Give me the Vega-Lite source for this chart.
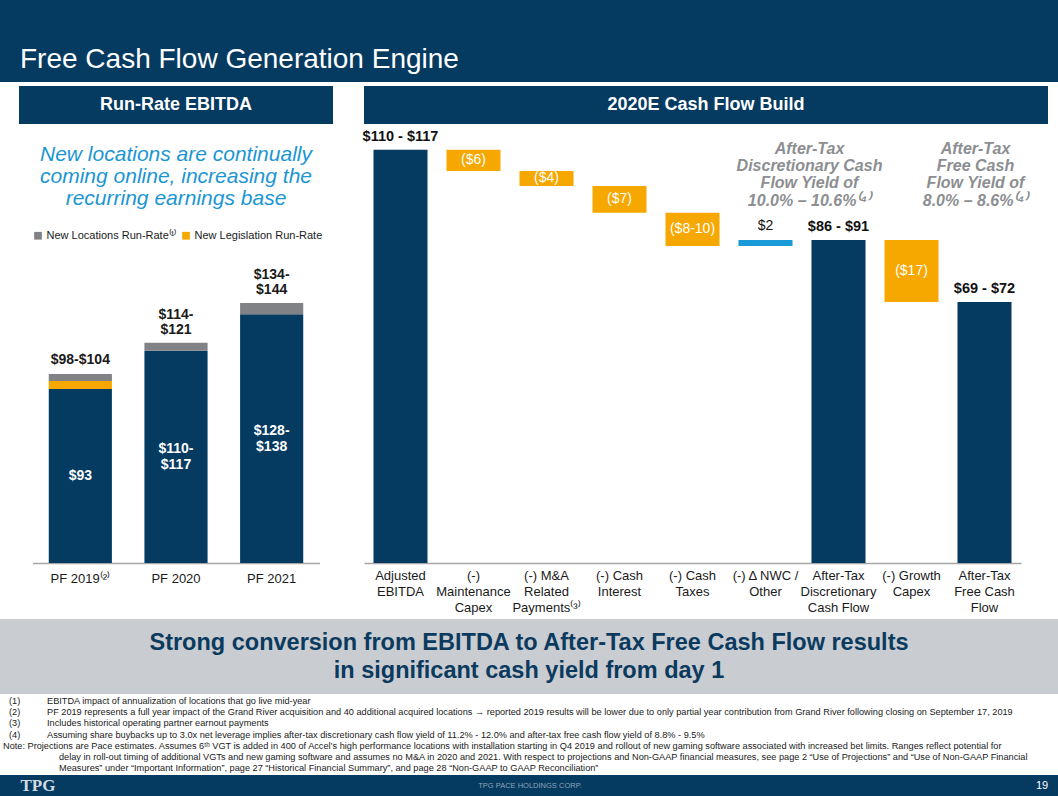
{
  "$schema": "https://vega.github.io/schema/vega-lite/v6.json",
  "padding": 0,
  "background": "white",
  "spacing": 0,
  "resolve": {"scale": {"color": "independent"}, "legend": {"color": "independent"}},
  "datasets": {
    "ebitda": [
      {"year": "PF 2019⁽²⁾", "segment": "Base", "value": 93, "label": "$93"},
      {"year": "PF 2019⁽²⁾", "segment": "New Legislation Run-Rate", "value": 4.3},
      {"year": "PF 2019⁽²⁾", "segment": "New Locations Run-Rate⁽¹⁾", "value": 3.7},
      {"year": "PF 2020", "segment": "Base", "value": 113.5, "label": "$110-|$117"},
      {"year": "PF 2020", "segment": "New Locations Run-Rate⁽¹⁾", "value": 4.2},
      {"year": "PF 2021", "segment": "Base", "value": 133, "label": "$128-|$138"},
      {"year": "PF 2021", "segment": "New Locations Run-Rate⁽¹⁾", "value": 6}
    ],
    "ebitdaTotals": [
      {"year": "PF 2019⁽²⁾", "total": 101, "label": "$98-$104"},
      {"year": "PF 2020", "total": 117.7, "label": "$114-|$121"},
      {"year": "PF 2021", "total": 139, "label": "$134-|$144"}
    ],
    "flow": [
      {"cat": "Adjusted|EBITDA", "start": 0, "end": 113.5, "kind": "total", "label": "$110 - $117"},
      {"cat": "(-)|Maintenance|Capex", "start": 113.5, "end": 107.7, "kind": "decrease", "label": "($6)"},
      {"cat": "(-) M&A|Related|Payments⁽³⁾", "start": 107.7, "end": 103.6, "kind": "decrease", "label": "($4)"},
      {"cat": "(-) Cash|Interest", "start": 103.6, "end": 96.2, "kind": "decrease", "label": "($7)"},
      {"cat": "(-) Cash|Taxes", "start": 96.2, "end": 87.1, "kind": "decrease", "label": "($8-10)"},
      {"cat": "(-) Δ NWC /|Other", "start": 87.1, "end": 88.7, "kind": "increase", "label": "$2"},
      {"cat": "After-Tax|Discretionary|Cash Flow", "start": 0, "end": 88.7, "kind": "total", "label": "$86 - $91"},
      {"cat": "(-) Growth|Capex", "start": 88.7, "end": 71.7, "kind": "decrease", "label": "($17)"},
      {"cat": "After-Tax|Free Cash|Flow", "start": 0, "end": 71.7, "kind": "total", "label": "$69 - $72"}
    ],
    "notes": [
      {"line": 1, "n": "(1)", "t": "EBITDA impact of annualization of locations that go live mid-year", "kind": "fn"},
      {"line": 2, "n": "(2)", "t": "PF 2019 represents a full year impact of the Grand River acquisition and 40 additional acquired locations → reported 2019 results will be lower due to only partial year contribution from Grand River following closing on September 17, 2019", "kind": "fn"},
      {"line": 3, "n": "(3)", "t": "Includes historical operating partner earnout payments", "kind": "fn"},
      {"line": 4, "n": "(4)", "t": "Assuming share buybacks up to 3.0x net leverage implies after-tax discretionary cash flow yield of 11.2% - 12.0% and after-tax free cash flow yield of 8.8% - 9.5%", "kind": "fn"},
      {"line": 5, "t": "Note: Projections are Pace estimates.  Assumes 6ᵗʰ VGT is added in 400 of Accel’s high performance locations with installation starting in Q4 2019 and rollout of new gaming software associated with increased bet limits. Ranges reflect potential for", "kind": "note"},
      {"line": 6, "t": "delay in roll-out timing of additional VGTs and new gaming software and assumes no M&A in 2020 and 2021. With respect to projections and Non-GAAP financial measures, see page 2 “Use of Projections” and “Use of Non-GAAP Financial", "kind": "cont"},
      {"line": 7, "t": "Measures” under “Important Information”, page 27 “Historical Financial Summary”, and page 28 “Non-GAAP to GAAP Reconciliation”", "kind": "cont"}
    ]
  },
  "vconcat": [
    {
      "width": 1058, "height": 82,
      "view": {"fill": "#053a61"},
      "data": {"values": [{"t": "Free Cash Flow Generation Engine"}]},
      "mark": {"type": "text", "align": "left", "baseline": "alphabetic", "dx": 20, "dy": 27, "fontSize": 28, "color": "white"},
      "encoding": {
        "text": {"field": "t"},
        "x": {"datum": 0, "type": "quantitative", "scale": {"domain": [0, 1]}, "axis": null}
      }
    },
    {"width": 1058, "height": 4, "data": {"values": []}, "mark": "text", "encoding": {}},
    {
      "spacing": 0,
      "resolve": {"scale": {"color": "independent"}, "legend": {"color": "independent"}},
      "hconcat": [
        {"width": 19, "height": 1, "data": {"values": []}, "mark": "text", "encoding": {}},
        {
          "bounds": "flush",
          "center": true,
          "spacing": 0,
          "resolve": {"scale": {"color": "independent"}, "legend": {"color": "independent"}},
          "vconcat": [
            {
              "width": 314, "height": 38,
              "view": {"fill": "#053a61"},
              "data": {"values": [{"t": "Run-Rate EBITDA"}]},
              "mark": {"type": "text", "color": "white", "fontWeight": "bold", "fontSize": 18},
              "encoding": {"text": {"field": "t"}}
            },
            {
              "width": 314, "height": 106,
              "data": {"values": [{"t": "New locations are continually|coming online, increasing the|recurring earnings base"}]},
              "mark": {"type": "text", "color": "#1b96d3", "fontStyle": "italic", "fontSize": 21, "lineBreak": "|", "lineHeight": 22, "dy": -22},
              "encoding": {"text": {"field": "t"}}
            },
            {
              "width": 287, "height": 333,
              "data": {"name": "ebitda"},
              "encoding": {
                "x": {
                  "field": "year", "type": "nominal", "sort": null,
                  "scale": {"paddingInner": 0.34, "paddingOuter": 0.17},
                  "axis": {"title": null, "labelAngle": 0, "ticks": false, "domainColor": "#a6a6a6", "domainWidth": 1.5, "labelFontSize": 13, "labelColor": "#1a1a1a", "labelPadding": 9, "labelOverlap": false}
                }
              },
              "layer": [
                {
                  "mark": {"type": "bar"},
                  "encoding": {
                    "y": {"field": "value", "type": "quantitative", "stack": "zero", "scale": {"domain": [0, 178], "nice": false}, "axis": null},
                    "color": {
                      "field": "segment", "type": "nominal",
                      "scale": {"domain": ["New Locations Run-Rate⁽¹⁾", "New Legislation Run-Rate", "Base"], "range": ["#808285", "#f7a800", "#053a61"]},
                      "legend": {
                        "values": ["New Locations Run-Rate⁽¹⁾", "New Legislation Run-Rate"],
                        "orient": "top-left", "direction": "horizontal", "columns": 2, "title": null,
                        "offset": 0, "padding": 0, "symbolType": "square", "symbolSize": 60, "symbolStrokeWidth": 0,
                        "labelFontSize": 11, "labelColor": "#1a1a1a", "labelOffset": 3, "columnPadding": 4, "labelLimit": 300
                      }
                    },
                    "order": {"field": "segment", "sort": "ascending"}
                  }
                },
                {
                  "transform": [
                    {"filter": "datum.segment === 'Base' && indexof(datum.label, '|') < 0"},
                    {"stack": "value", "groupby": ["year"], "as": ["v0", "v1"]},
                    {"fold": ["v0", "v1"], "as": ["k", "v"]}
                  ],
                  "mark": {"type": "text", "color": "white", "fontWeight": "bold", "fontSize": 14, "baseline": "middle"},
                  "encoding": {
                    "y": {"field": "v", "aggregate": "mean", "type": "quantitative"},
                    "text": {"field": "label"}
                  }
                },
                {
                  "transform": [
                    {"filter": "datum.segment === 'Base' && indexof(datum.label, '|') >= 0"},
                    {"stack": "value", "groupby": ["year"], "as": ["v0", "v1"]},
                    {"fold": ["v0", "v1"], "as": ["k", "v"]}
                  ],
                  "mark": {"type": "text", "color": "white", "fontWeight": "bold", "fontSize": 14, "lineBreak": "|", "lineHeight": 16, "baseline": "middle", "dy": -8},
                  "encoding": {
                    "y": {"field": "v", "aggregate": "mean", "type": "quantitative"},
                    "text": {"field": "label"}
                  }
                },
                {
                  "data": {"name": "ebitdaTotals"},
                  "transform": [{"filter": "indexof(datum.label, '|') < 0"}],
                  "mark": {"type": "text", "color": "#1a1a1a", "fontWeight": "bold", "fontSize": 14, "baseline": "bottom", "dy": -7},
                  "encoding": {
                    "y": {"field": "total", "type": "quantitative"},
                    "text": {"field": "label"}
                  }
                },
                {
                  "data": {"name": "ebitdaTotals"},
                  "transform": [{"filter": "indexof(datum.label, '|') >= 0"}],
                  "mark": {"type": "text", "color": "#1a1a1a", "fontWeight": "bold", "fontSize": 14, "lineBreak": "|", "lineHeight": 15, "baseline": "bottom", "dy": -21},
                  "encoding": {
                    "y": {"field": "total", "type": "quantitative"},
                    "text": {"field": "label"}
                  }
                }
              ]
            },
            {"width": 314, "height": 56, "data": {"values": []}, "mark": "text", "encoding": {}}
          ]
        },
        {"width": 29, "height": 1, "data": {"values": []}, "mark": "text", "encoding": {}},
        {
          "bounds": "flush",
          "spacing": 0,
          "resolve": {"scale": {"color": "independent"}, "legend": {"color": "independent"}},
          "vconcat": [
            {
              "width": 684, "height": 38,
              "view": {"fill": "#053a61"},
              "data": {"values": [{"t": "2020E Cash Flow Build"}]},
              "mark": {"type": "text", "color": "white", "fontWeight": "bold", "fontSize": 18},
              "encoding": {"text": {"field": "t"}}
            },
            {
              "width": 657, "height": 439,
              "data": {"name": "flow"},
              "encoding": {
                "x": {
                  "field": "cat", "type": "nominal", "sort": null,
                  "scale": {"paddingInner": 0.26, "paddingOuter": 0.13},
                  "axis": {"title": null, "labelAngle": 0, "ticks": false, "domainColor": "#a6a6a6", "domainWidth": 1.5, "labelFontSize": 13, "labelColor": "#1a1a1a", "labelLineHeight": 16, "labelPadding": 6, "labelOverlap": false, "labelExpr": "split(datum.label, '|')"}
                }
              },
              "layer": [
                {
                  "mark": {"type": "bar"},
                  "encoding": {
                    "y": {"field": "start", "type": "quantitative", "scale": {"domain": [0, 120.6], "nice": false}, "axis": null},
                    "y2": {"field": "end"},
                    "color": {"field": "kind", "type": "nominal", "scale": {"domain": ["total", "decrease", "increase"], "range": ["#053a61", "#f7a800", "#1a9bd7"]}, "legend": null}
                  }
                },
                {
                  "transform": [{"filter": "datum.kind === 'total'"}],
                  "mark": {"type": "text", "color": "#111111", "fontWeight": "bold", "fontSize": 14.5, "baseline": "bottom", "dy": -6},
                  "encoding": {"y": {"field": "end", "type": "quantitative"}, "text": {"field": "label"}}
                },
                {
                  "transform": [{"filter": "datum.kind === 'increase'"}],
                  "mark": {"type": "text", "color": "#111111", "fontSize": 14, "baseline": "bottom", "dy": -7},
                  "encoding": {"y": {"field": "end", "type": "quantitative"}, "text": {"field": "label"}}
                },
                {
                  "transform": [
                    {"filter": "datum.kind === 'decrease'"},
                    {"fold": ["start", "end"], "as": ["k", "v"]}
                  ],
                  "mark": {"type": "text", "color": "white", "fontSize": 14, "baseline": "middle"},
                  "encoding": {"y": {"field": "v", "aggregate": "mean", "type": "quantitative"}, "text": {"field": "label"}}
                },
                {
                  "data": {"values": [{"t": "After-Tax|Discretionary Cash|Flow Yield of|10.0% – 10.6%⁽⁴⁾"}]},
                  "mark": {"type": "text", "color": "#8c8e91", "fontWeight": "bold", "fontStyle": "italic", "fontSize": 16, "lineBreak": "|", "lineHeight": 17.3, "baseline": "top", "dx": -29},
                  "encoding": {
                    "x": {"datum": "After-Tax|Discretionary|Cash Flow", "type": "nominal"},
                    "y": {"datum": 116, "type": "quantitative"},
                    "text": {"field": "t"}
                  }
                },
                {
                  "data": {"values": [{"t": "After-Tax|Free Cash|Flow Yield of|8.0% – 8.6%⁽⁴⁾"}]},
                  "mark": {"type": "text", "color": "#8c8e91", "fontWeight": "bold", "fontStyle": "italic", "fontSize": 16, "lineBreak": "|", "lineHeight": 17.3, "baseline": "top", "dx": -9},
                  "encoding": {
                    "x": {"datum": "After-Tax|Free Cash|Flow", "type": "nominal"},
                    "y": {"datum": 116, "type": "quantitative"},
                    "text": {"field": "t"}
                  }
                }
              ]
            }
          ]
        },
        {"width": 12, "height": 1, "data": {"values": []}, "mark": "text", "encoding": {}}
      ]
    },
    {
      "width": 1058, "height": 75,
      "view": {"fill": "#c9ccd0"},
      "data": {"values": [{"t": "Strong conversion from EBITDA to After-Tax Free Cash Flow results|in significant cash yield from day 1"}]},
      "mark": {"type": "text", "fontWeight": "bold", "fontSize": 23.5, "color": "#0b3a5f", "lineBreak": "|", "lineHeight": 28, "dy": -14},
      "encoding": {"text": {"field": "t"}}
    },
    {
      "width": 1058, "height": 81,
      "data": {"name": "notes"},
      "encoding": {
        "x": {"datum": 0, "type": "quantitative", "scale": {"domain": [0, 1]}, "axis": null},
        "y": {"field": "line", "type": "ordinal", "scale": {"type": "point", "padding": 0.63}, "axis": null}
      },
      "layer": [
        {
          "transform": [{"filter": "datum.kind === 'fn'"}],
          "mark": {"type": "text", "align": "left", "fontSize": 9.2, "color": "#1a1a1a", "dx": 9},
          "encoding": {"text": {"field": "n"}}
        },
        {
          "transform": [{"filter": "datum.kind === 'fn'"}],
          "mark": {"type": "text", "align": "left", "fontSize": 9.2, "color": "#1a1a1a", "dx": 47},
          "encoding": {"text": {"field": "t"}}
        },
        {
          "transform": [{"filter": "datum.kind === 'note'"}],
          "mark": {"type": "text", "align": "left", "fontSize": 9.2, "color": "#1a1a1a", "dx": 3},
          "encoding": {"text": {"field": "t"}}
        },
        {
          "transform": [{"filter": "datum.kind === 'cont'"}],
          "mark": {"type": "text", "align": "left", "fontSize": 9.2, "color": "#1a1a1a", "dx": 59},
          "encoding": {"text": {"field": "t"}}
        }
      ]
    },
    {
      "spacing": 0,
      "hconcat": [
        {
          "width": 76, "height": 21,
          "view": {"fill": "#053a61"},
          "data": {"values": [{"t": "TPG"}]},
          "mark": {"type": "text", "font": "Liberation Serif, DejaVu Serif, serif", "fontWeight": "bold", "fontSize": 17, "color": "#d3dae1"},
          "encoding": {"text": {"field": "t"}}
        },
        {
          "width": 908, "height": 21,
          "view": {"fill": "#053a61"},
          "data": {"values": [{"t": "TPG PACE HOLDINGS CORP."}]},
          "mark": {"type": "text", "fontSize": 7.5, "color": "#8ea3b7"},
          "encoding": {"text": {"field": "t"}}
        },
        {"width": 42, "height": 21, "view": {"fill": "#053a61"}, "data": {"values": []}, "mark": "text", "encoding": {}},
        {
          "width": 32, "height": 21,
          "view": {"fill": "#053a61"},
          "data": {"values": [{"t": "19"}]},
          "mark": {"type": "text", "fontSize": 11, "color": "white"},
          "encoding": {"text": {"field": "t"}}
        }
      ]
    }
  ],
  "config": {
    "view": {"stroke": null},
    "font": "Liberation Sans, Arial, sans-serif",
    "axis": {"grid": false}
  }
}
